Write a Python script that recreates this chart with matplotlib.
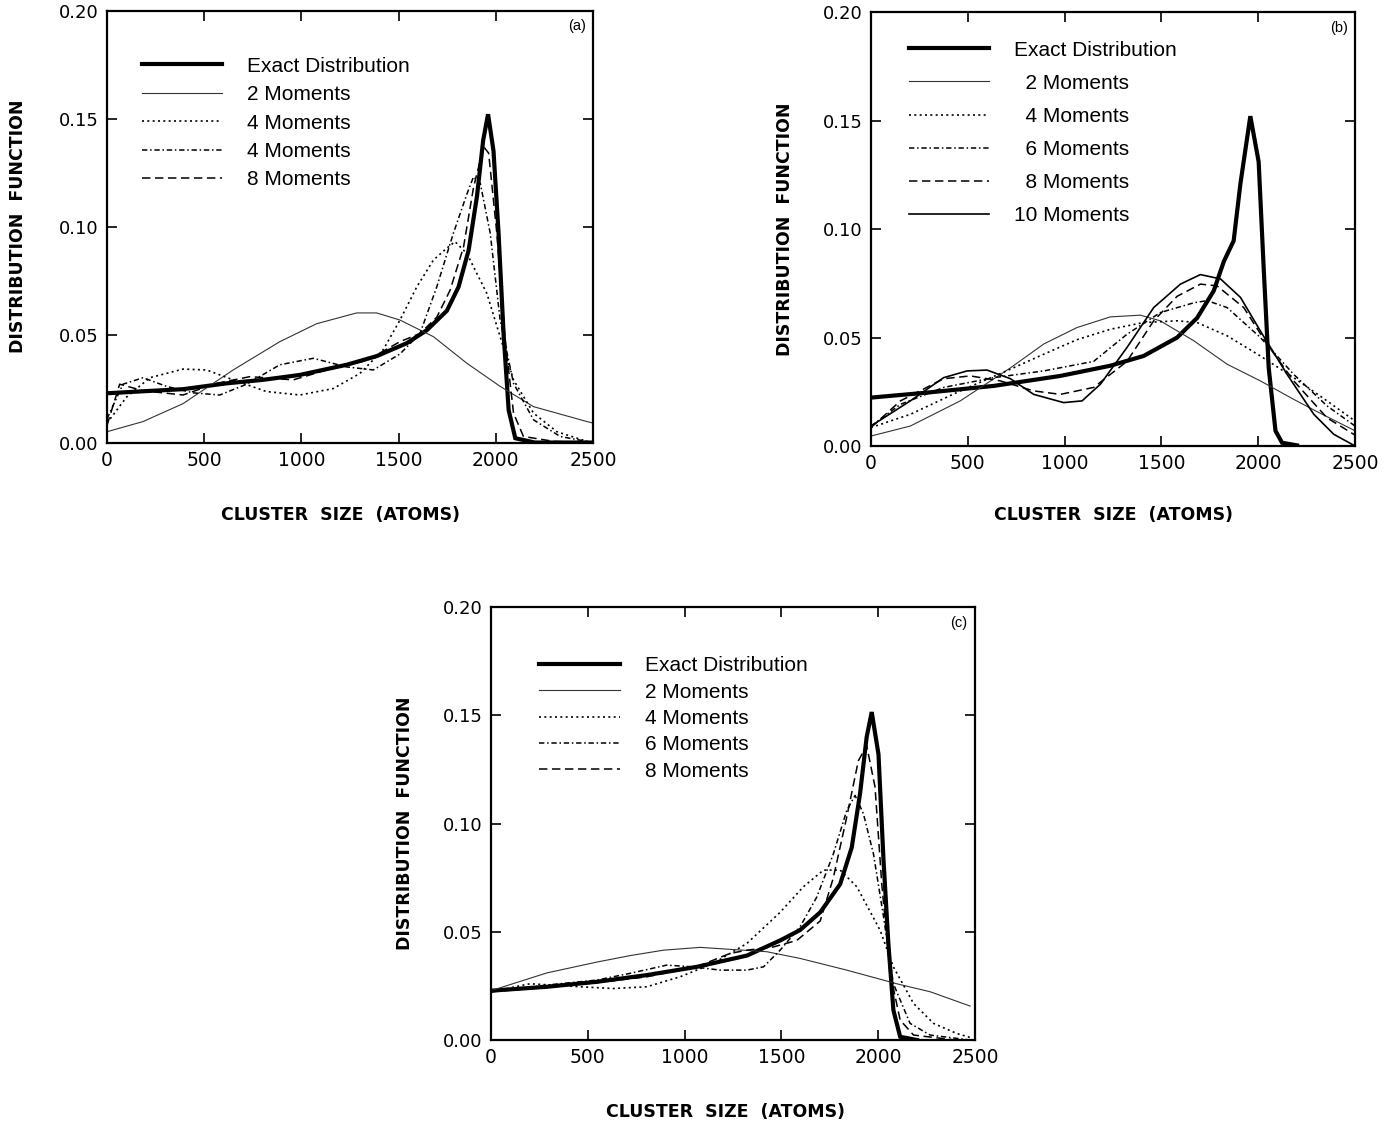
"""Cluster size distribution vs. moment-method reconstructions, panels (a)-(c)."""

import matplotlib
import matplotlib.pyplot as plt
from matplotlib.lines import Line2D

matplotlib.use("Agg")

# ---- panel (a) ----
A_EXACT_X = [0, 200, 391, 615, 800, 992, 1233, 1387, 1542, 1645, 1748, 1808, 1860, 1903, 1935, 1960,
             1988, 2014, 2040, 2066, 2100, 2200, 2500]
A_EXACT_Y = [0.0228, 0.0238, 0.0247, 0.0274, 0.029, 0.0313, 0.036, 0.040, 0.046, 0.052, 0.061, 0.072,
             0.089, 0.114, 0.140, 0.152, 0.135, 0.097, 0.050, 0.015, 0.002, 0.0, 0.0]
A_M2_X = [0, 185, 391, 649, 889, 1078, 1284, 1387, 1507, 1679, 1851, 2022, 2194, 2469, 2500]
A_M2_Y = [0.005, 0.0097, 0.018, 0.0336, 0.0467, 0.055, 0.060, 0.060, 0.0567, 0.049, 0.0367, 0.026,
          0.0166, 0.0097, 0.009]
A_M4_X = [0, 100, 220, 391, 512, 649, 820, 992, 1164, 1301, 1421, 1507, 1593, 1679, 1748, 1790, 1851,
          1954, 2022, 2091, 2194, 2314, 2469, 2500]
A_M4_Y = [0.009, 0.021, 0.030, 0.034, 0.0336, 0.029, 0.0236, 0.022, 0.025, 0.032, 0.043, 0.0567, 0.072,
          0.0845, 0.090, 0.093, 0.0875, 0.069, 0.049, 0.029, 0.0136, 0.005, 0.0005, 0.0]
A_M6_X = [0, 82, 185, 306, 443, 580, 718, 889, 1061, 1233, 1370, 1507, 1610, 1696, 1782, 1851, 1885,
          1920, 1971, 2022, 2091, 2194, 2331, 2500]
A_M6_Y = [0.011, 0.027, 0.030, 0.026, 0.023, 0.022, 0.027, 0.036, 0.039, 0.035, 0.0336, 0.041, 0.0505,
          0.072, 0.097, 0.115, 0.123, 0.120, 0.097, 0.0567, 0.0274, 0.0105, 0.0028, 0.0]
A_M8_X = [0, 65, 185, 391, 563, 735, 958, 1130, 1336, 1507, 1610, 1696, 1765, 1834, 1885, 1937, 1963,
          2005, 2048, 2091, 2142, 2300, 2500]
A_M8_Y = [0.008, 0.027, 0.024, 0.022, 0.0274, 0.0305, 0.029, 0.0336, 0.038, 0.0467, 0.0505, 0.058,
          0.0706, 0.0906, 0.118, 0.137, 0.134, 0.097, 0.0475, 0.0136, 0.0028, 0.0005, 0.0]
A_LABELS = ["Exact Distribution", "2 Moments", "4 Moments", "4 Moments", "8 Moments"]

# ---- panel (b) ----
B_EXACT_X = [0, 289, 634, 978, 1236, 1408, 1581, 1684, 1770, 1822, 1873, 1908, 1959, 2002, 2028, 2054,
             2089, 2123, 2200]
B_EXACT_Y = [0.0223, 0.0246, 0.0277, 0.0323, 0.037, 0.0415, 0.050, 0.059, 0.0715, 0.085, 0.0946, 0.121,
             0.152, 0.131, 0.082, 0.036, 0.007, 0.0015, 0.0003]
B_M2_X = [0, 203, 461, 720, 892, 1064, 1236, 1391, 1494, 1667, 1839, 2011, 2183, 2300, 2500]
B_M2_Y = [0.0046, 0.0092, 0.0208, 0.036, 0.047, 0.0546, 0.0595, 0.0603, 0.0577, 0.0485, 0.0377, 0.030,
          0.0215, 0.016, 0.007]
B_M4_X = [0, 203, 461, 720, 892, 1064, 1236, 1408, 1581, 1684, 1839, 2011, 2183, 2355, 2500]
B_M4_Y = [0.0085, 0.0146, 0.0254, 0.0354, 0.0423, 0.049, 0.0538, 0.0569, 0.0577, 0.0569, 0.0508, 0.0415,
          0.0315, 0.0208, 0.0115]
B_M6_X = [0, 152, 375, 634, 892, 1150, 1322, 1494, 1667, 1736, 1839, 2011, 2183, 2355, 2500]
B_M6_Y = [0.0092, 0.0192, 0.027, 0.0315, 0.0346, 0.039, 0.0515, 0.0615, 0.066, 0.067, 0.0638, 0.050,
          0.033, 0.0185, 0.0092]
B_M8_X = [0, 152, 375, 513, 668, 840, 978, 1150, 1322, 1460, 1581, 1701, 1787, 1925, 2045, 2183, 2355,
          2500]
B_M8_Y = [0.0085, 0.0208, 0.031, 0.0323, 0.030, 0.0254, 0.0238, 0.027, 0.039, 0.0577, 0.069, 0.0746,
          0.0738, 0.0638, 0.047, 0.030, 0.013, 0.005]
B_M10_X = [0, 203, 375, 496, 599, 720, 840, 995, 1090, 1185, 1322, 1460, 1598, 1701, 1805, 1908, 2011,
           2149, 2287, 2390, 2500]
B_M10_Y = [0.0092, 0.0208, 0.0315, 0.0346, 0.035, 0.031, 0.0238, 0.020, 0.0208, 0.0285, 0.0454, 0.0638,
           0.0746, 0.079, 0.077, 0.0685, 0.053, 0.033, 0.0146, 0.0054, 0.0]
B_LABELS = ["Exact Distribution", "  2 Moments", "  4 Moments", "  6 Moments", "  8 Moments",
            "10 Moments"]

# ---- panel (c) ----
C_EXACT_X = [0, 288, 546, 804, 1062, 1321, 1493, 1596, 1700, 1803, 1863, 1906, 1940, 1966, 2001, 2027,
             2052, 2078, 2113, 2200]
C_EXACT_Y = [0.0228, 0.0246, 0.0269, 0.030, 0.0338, 0.039, 0.046, 0.0508, 0.059, 0.072, 0.089, 0.114,
             0.140, 0.1515, 0.132, 0.083, 0.0446, 0.0138, 0.0015, 0.0]
C_M2_X = [0, 288, 546, 718, 890, 1080, 1252, 1424, 1596, 1837, 2095, 2268, 2474]
C_M2_Y = [0.0228, 0.031, 0.036, 0.039, 0.0415, 0.0428, 0.0418, 0.0408, 0.0377, 0.0323, 0.026, 0.0223,
          0.0157]
C_M4_X = [0, 201, 460, 632, 804, 976, 1148, 1321, 1493, 1613, 1717, 1803, 1889, 2009, 2078, 2182, 2285,
          2406, 2474]
C_M4_Y = [0.0223, 0.026, 0.0246, 0.0238, 0.0246, 0.0292, 0.0354, 0.0446, 0.059, 0.0708, 0.0785, 0.0785,
          0.0708, 0.0508, 0.0338, 0.0169, 0.0077, 0.003, 0.0012]
C_M6_X = [0, 288, 546, 718, 907, 1045, 1183, 1321, 1407, 1493, 1596, 1682, 1768, 1837, 1880, 1923, 1975,
          2027, 2078, 2164, 2268, 2474]
C_M6_Y = [0.0223, 0.0254, 0.0277, 0.0308, 0.0346, 0.0338, 0.0323, 0.0323, 0.0338, 0.0415, 0.0523, 0.066,
          0.086, 0.106, 0.113, 0.1046, 0.086, 0.057, 0.026, 0.0077, 0.0023, 0.0]
C_M8_X = [0, 288, 546, 804, 1062, 1234, 1321, 1458, 1579, 1700, 1768, 1837, 1897, 1940, 1983, 2018, 2061,
          2113, 2182, 2400]
C_M8_Y = [0.0223, 0.0243, 0.0265, 0.0292, 0.0338, 0.040, 0.0415, 0.043, 0.046, 0.055, 0.075, 0.103, 0.129,
          0.136, 0.117, 0.072, 0.031, 0.0092, 0.0023, 0.0]
C_LABELS = ["Exact Distribution", "2 Moments", "4 Moments", "6 Moments", "8 Moments"]

X_TICKS = [0, 500, 1000, 1500, 2000, 2500]
Y_TICKS = [0.00, 0.05, 0.10, 0.15, 0.20]

# line styles: exact, 2, 4, 6, 8, 10 moments
STYLES = [
    dict(color="black", lw=3.0, ls="-"),
    dict(color="#333333", lw=0.8, ls="-"),
    dict(color="black", lw=1.2, ls=(0, (1.2, 2.0))),
    dict(color="black", lw=1.1, ls=(0, (3.5, 1.8, 1.0, 1.8))),
    dict(color="black", lw=1.1, ls=(0, (5.5, 3.0))),
    dict(color="black", lw=1.2, ls="-"),
]

TICK_FONT = "DejaVu Sans"
LEGEND_FONT = "Liberation Sans"


def plot_panel(fig, rect, curves, labels, tag, legend_anchor, labelspacing, xlabel_pos, ylabel_pos):
    ax = fig.add_axes(rect)
    for (x, y), st in zip(curves, STYLES):
        ax.plot(x, y, solid_joinstyle="miter", **st)
    ax.set_xlim(0, 2500)
    ax.set_ylim(0, 0.20)
    ax.set_xticks(X_TICKS)
    ax.set_yticks(Y_TICKS)
    ax.set_xticklabels([str(v) for v in X_TICKS], fontfamily=TICK_FONT, fontsize=13.5)
    ax.set_yticklabels([f"{v:.2f}" for v in Y_TICKS], fontfamily=TICK_FONT, fontsize=13)
    ax.tick_params(direction="in", top=True, right=True, length=7, width=1.2, pad=6)
    for sp in ax.spines.values():
        sp.set_linewidth(1.6)

    ax.set_xlabel("CLUSTER  SIZE  (ATOMS)", fontfamily=TICK_FONT, fontweight="bold", fontsize=12.5)
    ax.set_ylabel("DISTRIBUTION  FUNCTION", fontfamily=TICK_FONT, fontweight="bold", fontsize=12.5)
    ax.xaxis.set_label_coords(*xlabel_pos)
    ax.yaxis.set_label_coords(*ylabel_pos)

    ax.text(0.967, 0.964, tag, transform=ax.transAxes, ha="center", va="center",
            fontfamily=LEGEND_FONT, fontsize=10.5)

    handles = [Line2D([], [], **st) for st in STYLES[:len(labels)]]
    ax.legend(handles, labels, loc="upper left", bbox_to_anchor=legend_anchor, frameon=False,
              borderpad=0, borderaxespad=0, handlelength=3.85, handletextpad=1.2,
              labelspacing=labelspacing, prop={"family": LEGEND_FONT, "size": 15})
    return ax


def main() -> None:
    fig = plt.figure(figsize=(13.99, 11.24), dpi=100)

    plot_panel(fig, [0.0765, 0.6063, 0.3474, 0.3843],
               [(A_EXACT_X, A_EXACT_Y), (A_M2_X, A_M2_Y), (A_M4_X, A_M4_Y),
                (A_M6_X, A_M6_Y), (A_M8_X, A_M8_Y)],
               A_LABELS, "(a)", (0.071, 0.893), 0.45, (0.48, -0.147), (-0.165, 0.5))

    plot_panel(fig, [0.6226, 0.6032, 0.3460, 0.3861],
               [(B_EXACT_X, B_EXACT_Y), (B_M2_X, B_M2_Y), (B_M4_X, B_M4_Y),
                (B_M6_X, B_M6_Y), (B_M8_X, B_M8_Y), (B_M10_X, B_M10_Y)],
               B_LABELS, "(b)", (0.079, 0.934), 0.675, (0.5, -0.138), (-0.159, 0.5))

    plot_panel(fig, [0.3510, 0.0747, 0.3460, 0.3852],
               [(C_EXACT_X, C_EXACT_Y), (C_M2_X, C_M2_Y), (C_M4_X, C_M4_Y),
                (C_M6_X, C_M6_Y), (C_M8_X, C_M8_Y)],
               C_LABELS, "(c)", (0.10, 0.886), 0.35, (0.485, -0.145), (-0.159, 0.5))

    fig.savefig("out.png", dpi=100)
    plt.close(fig)


if __name__ == "__main__":
    main()
